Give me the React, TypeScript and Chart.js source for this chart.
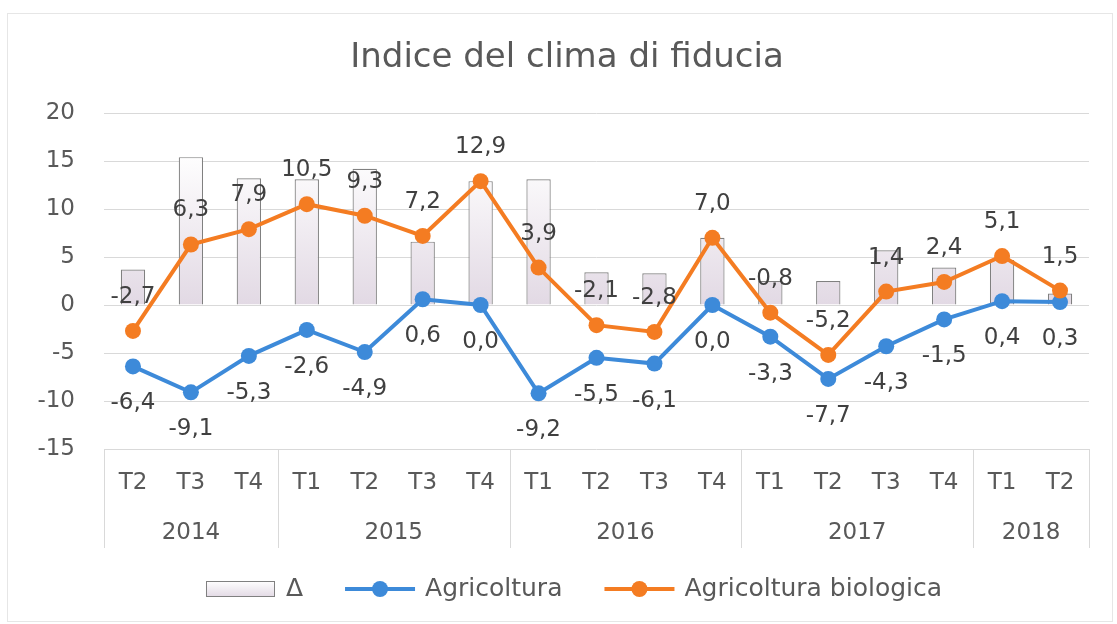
import React, { useEffect, useRef } from 'react';
import { Chart, registerables } from 'chart.js';

Chart.register(...registerables);

const titleText = 'Indice del clima di fiducia';
const quarters = ['T2', 'T3', 'T4', 'T1', 'T2', 'T3', 'T4', 'T1', 'T2', 'T3', 'T4', 'T1', 'T2', 'T3', 'T4', 'T1', 'T2'];
const years = ['2014', '2015', '2016', '2017', '2018'];
const yearSpans = [3, 4, 4, 4, 2];
const delta = [3.7, 15.4, 13.2, 13.1, 14.2, 6.6, 12.9, 13.1, 3.4, 3.3, 7.0, 2.5, 2.5, 5.7, 3.9, 4.7, 1.2];
const agricoltura = [-6.4, -9.1, -5.3, -2.6, -4.9, 0.6, 0.0, -9.2, -5.5, -6.1, 0.0, -3.3, -7.7, -4.3, -1.5, 0.4, 0.3];
const biologica = [-2.7, 6.3, 7.9, 10.5, 9.3, 7.2, 12.9, 3.9, -2.1, -2.8, 7.0, -0.8, -5.2, 1.4, 2.4, 5.1, 1.5];
const seriesNames = ['\u0394', 'Agricoltura', 'Agricoltura biologica'];
const yMin = -15;
const yMax = 20;
const yStep = 5;

const FONT = '"DejaVu Sans", sans-serif';
const TEXT = '#595959';
const BLUE = '#3d8ad9';
const ORANGE = '#f47c22';
const GRID = '#d9d9d9';

const fmt = (v: number) => v.toFixed(1).replace('.', ',');

function barFill(chart: any) {
  const ca = chart.chartArea;
  const y = chart.scales?.y;
  if (!ca || !y) return '#eeeaf0';
  const g = chart.ctx.createLinearGradient(0, y.getPixelForValue(16), 0, y.getPixelForValue(0));
  g.addColorStop(0, '#ffffff');
  g.addColorStop(1, '#e2d9e4');
  return g;
}

const decorPlugin = {
  id: 'decor',
  beforeDraw(chart: any) {
    const ctx = chart.ctx;
    ctx.save();
    ctx.fillStyle = '#ffffff';
    ctx.fillRect(0, 0, chart.width, chart.height);
    ctx.strokeStyle = '#e6e6e6';
    ctx.lineWidth = 1;
    ctx.strokeRect(7.5, 13.5, chart.width - 12, chart.height - 16);
    ctx.fillStyle = TEXT;
    ctx.font = `34px ${FONT}`;
    ctx.textAlign = 'center';
    ctx.textBaseline = 'middle';
    ctx.fillText(titleText, 567, 58);
    ctx.restore();
  },
  afterDatasetsDraw(chart: any) {
    const ctx = chart.ctx;
    ctx.save();
    ctx.font = `23px ${FONT}`;
    ctx.fillStyle = '#404040';
    ctx.textAlign = 'center';
    ctx.textBaseline = 'middle';
    const lineSets = [
      { idx: 1, dy: 37 },
      { idx: 2, dy: -34 },
    ];
    for (const s of lineSets) {
      const meta = chart.getDatasetMeta(s.idx);
      const data = chart.data.datasets[s.idx].data as number[];
      meta.data.forEach((pt: any, i: number) => {
        ctx.fillText(fmt(data[i]), pt.x, pt.y + s.dy);
      });
    }
    ctx.restore();
  },
  afterDraw(chart: any) {
    const ctx = chart.ctx;
    const x = chart.scales.x;
    const ca = chart.chartArea;
    ctx.save();
    ctx.strokeStyle = GRID;
    ctx.lineWidth = 1;
    const sepBottom = ca.bottom + 99;
    let start = 0;
    const edges: number[] = [ca.left];
    ctx.font = `23px ${FONT}`;
    ctx.fillStyle = TEXT;
    ctx.textAlign = 'center';
    ctx.textBaseline = 'middle';
    years.forEach((yr, k) => {
      const end = start + yearSpans[k] - 1;
      const left = start === 0 ? ca.left : (x.getPixelForValue(start - 1) + x.getPixelForValue(start)) / 2;
      const right = end === quarters.length - 1 ? ca.right : (x.getPixelForValue(end) + x.getPixelForValue(end + 1)) / 2;
      edges.push(right);
      ctx.fillText(yr, (left + right) / 2, ca.bottom + 84);
      start = end + 1;
    });
    edges.forEach((e) => {
      const px = Math.round(e) + 0.5;
      ctx.beginPath();
      ctx.moveTo(px, ca.bottom);
      ctx.lineTo(px, sepBottom);
      ctx.stroke();
    });

    // legend
    ctx.font = `25px ${FONT}`;
    const swW = 70;
    const txtGap = 10;
    const itemGap = 42;
    const widths = seriesNames.map((n) => ctx.measureText(n).width);
    const total = widths.reduce((a, b) => a + b, 0) + 3 * (swW + txtGap) + 2 * itemGap;
    let lx = 574 - total / 2;
    const ly = 589;
    seriesNames.forEach((name, i) => {
      if (i === 0) {
        const g = ctx.createLinearGradient(0, ly - 8, 0, ly + 8);
        g.addColorStop(0, '#ffffff');
        g.addColorStop(1, '#e2d9e4');
        ctx.fillStyle = g;
        ctx.fillRect(lx, ly - 7, swW - 2, 15);
        ctx.strokeStyle = '#808080';
        ctx.lineWidth = 1;
        ctx.strokeRect(Math.round(lx) + 0.5, ly - 7.5, swW - 2, 15);
      } else {
        const col = chart.data.datasets[i].borderColor;
        ctx.strokeStyle = col;
        ctx.lineWidth = 4;
        ctx.beginPath();
        ctx.moveTo(lx, ly);
        ctx.lineTo(lx + swW, ly);
        ctx.stroke();
        ctx.fillStyle = col;
        ctx.beginPath();
        ctx.arc(lx + swW / 2, ly, 8, 0, Math.PI * 2);
        ctx.fill();
      }
      lx += swW + txtGap;
      ctx.fillStyle = TEXT;
      ctx.textAlign = 'left';
      ctx.fillText(name, lx, ly);
      lx += widths[i] + itemGap;
    });
    ctx.restore();
  },
};

export default function App() {
  const ref = useRef<HTMLCanvasElement | null>(null);
  useEffect(() => {
    if (!ref.current) return;
    const chart = new Chart(ref.current, {
      type: 'bar',
      data: {
        labels: quarters,
        datasets: [
          {
            type: 'bar',
            label: seriesNames[0],
            data: delta,
            backgroundColor: (c: any) => barFill(c.chart),
            borderColor: '#808080',
            borderWidth: 1.2,
            barPercentage: 0.42,
            categoryPercentage: 1,
            order: 3,
          },
          {
            type: 'line',
            label: seriesNames[1],
            data: agricoltura,
            borderColor: BLUE,
            backgroundColor: BLUE,
            borderWidth: 4,
            pointRadius: 8,
            pointBorderWidth: 0,
            pointBackgroundColor: BLUE,
            tension: 0,
            order: 2,
          },
          {
            type: 'line',
            label: seriesNames[2],
            data: biologica,
            borderColor: ORANGE,
            backgroundColor: ORANGE,
            borderWidth: 4,
            pointRadius: 8,
            pointBorderWidth: 0,
            pointBackgroundColor: ORANGE,
            tension: 0,
            order: 1,
          },
        ] as any,
      },
      options: {
        responsive: false,
        animation: false,
        layout: { padding: { top: 113, left: 0, right: 28, bottom: 0 } },
        plugins: {
          legend: { display: false },
          title: { display: false },
          tooltip: { enabled: false },
        },
        scales: {
          x: {
            grid: { display: false, drawTicks: false },
            border: { display: false },
            ticks: { color: TEXT, font: { family: FONT, size: 23 }, padding: 20, maxRotation: 0, autoSkip: false },
            afterFit: (s: any) => { s.height = 624 - 449; },
          },
          y: {
            min: yMin,
            max: yMax,
            grid: { color: GRID, drawTicks: false, lineWidth: 1 },
            border: { display: false },
            ticks: { stepSize: yStep, color: TEXT, font: { family: FONT, size: 23 }, padding: 29 },
            afterFit: (s: any) => { s.width = 104; },
          },
        },
      } as any,
      plugins: [decorPlugin],
    });
    return () => chart.destroy();
  }, []);
  return (
    <div style={{ position: 'fixed', left: 0, top: 0, width: 1117, height: 624, background: '#fff' }}>
      <canvas ref={ref} width={1117} height={624} />
    </div>
  );
}
